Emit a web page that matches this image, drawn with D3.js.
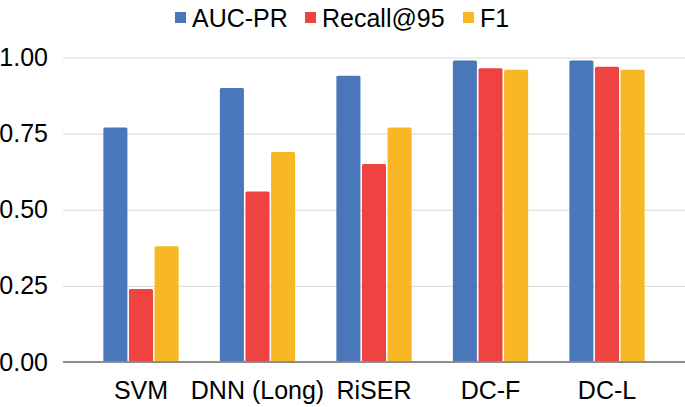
<!DOCTYPE html>
<html>
<head>
<script src="https://d3js.org/d3.v7.min.js"></script>
<style>
  body { margin: 0; background: #fff; }
  svg { display: block; font-family: "Liberation Sans", Arial, sans-serif; }
</style>
</head>
<body>
<svg id="chart" width="685" height="407"></svg>
<script>
const categories = ["SVM", "DNN (Long)", "RiSER", "DC-F", "DC-L"];
const seriesNames = ["AUC-PR", "Recall@95", "F1"];
const aucPR = [0.77, 0.90, 0.94, 0.99, 0.99];
const recall95 = [0.24, 0.56, 0.65, 0.965, 0.97];
const f1 = [0.38, 0.69, 0.77, 0.96, 0.96];
const yTicks = [0, 0.25, 0.5, 0.75, 1];
const colors = ["#4a77ba", "#ee4340", "#f8b825"];

const series = [aucPR, recall95, f1];
const svg = d3.select("#chart");

const x = d3.scaleBand().domain(categories).range([82.75, 665.25]).paddingInner(0.354).paddingOuter(0.177);
const xs = d3.scaleBand().domain(seriesNames).range([0, x.bandwidth()]).paddingInner(0.06);
const y = d3.scaleLinear().domain([0, 1]).range([362, 57.5]);

// gridlines + y labels
const yAxis = svg.append("g")
    .attr("transform", "translate(63,0)")
    .call(d3.axisLeft(y).tickValues(yTicks).tickFormat(d3.format(".2f")).tickSize(-622).tickPadding(15));
yAxis.select(".domain").remove();
yAxis.selectAll(".tick line").attr("stroke", "#d9d9d9").attr("stroke-width", 1);
yAxis.selectAll(".tick text").attr("font-size", 25).attr("fill", "#000").attr("font-family", "Liberation Sans, Arial, sans-serif");

// bars
const groups = svg.append("g").selectAll("g")
    .data(categories)
    .join("g")
    .attr("transform", d => `translate(${x(d)},0)`);

groups.selectAll("rect")
    .data((c, i) => seriesNames.map((s, j) => ({ s, v: series[j][i], j })))
    .join("rect")
    .attr("x", d => xs(d.s))
    .attr("y", d => y(d.v))
    .attr("width", xs.bandwidth())
    .attr("height", d => y(0) - y(d.v))
    .attr("rx", 1.5)
    .attr("fill", d => colors[d.j]);

// x axis
const xAxis = svg.append("g")
    .attr("transform", `translate(0,${y(0)})`)
    .call(d3.axisBottom(x).tickSize(0).tickPadding(19));
xAxis.select(".domain").remove();
xAxis.append("line").attr("x1", 63).attr("x2", 685).attr("stroke", "#8c8c8c").attr("stroke-width", 2);
xAxis.selectAll(".tick text").attr("font-size", 25).attr("fill", "#000").attr("font-family", "Liberation Sans, Arial, sans-serif");

// legend
const legendX = [175, 305, 463];
const legend = svg.append("g").selectAll("g")
    .data(seriesNames)
    .join("g")
    .attr("transform", (d, i) => `translate(${legendX[i]},0)`);
legend.append("rect").attr("x", 0).attr("y", 12).attr("width", 11).attr("height", 11)
    .attr("fill", (d, i) => colors[i]);
legend.append("text").attr("x", 17).attr("y", 27)
    .attr("font-size", 25).attr("fill", "#000")
    .text(d => d);
</script>
</body>
</html>
